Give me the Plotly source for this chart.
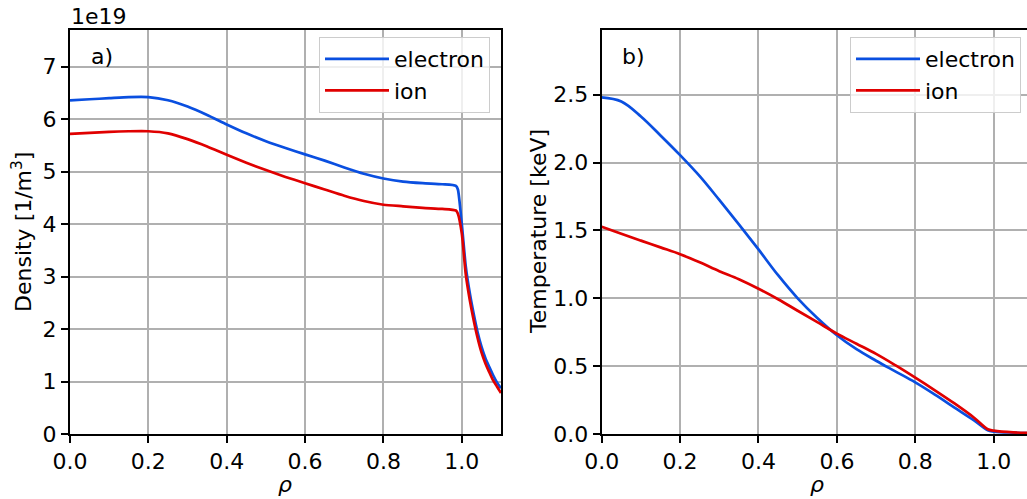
import plotly.graph_objects as go

# Radial profiles: density (units of 1e19 m^-3) and temperature (keV) versus rho
rho_n = [0.0, 0.05, 0.1, 0.15, 0.2, 0.25, 0.3, 0.35, 0.4, 0.45, 0.5, 0.55, 0.6,
         0.65, 0.7, 0.75, 0.8, 0.85, 0.9, 0.95, 0.985, 0.99, 1.0, 1.01, 1.02,
         1.03, 1.04, 1.05, 1.06, 1.07, 1.08, 1.09, 1.1]
ne = [6.36, 6.38, 6.40, 6.42, 6.42, 6.36, 6.24, 6.08, 5.90, 5.73, 5.58, 5.45,
      5.33, 5.21, 5.08, 4.96, 4.87, 4.81, 4.78, 4.76, 4.73, 4.66, 4.00, 3.20,
      2.70, 2.30, 1.95, 1.67, 1.45, 1.28, 1.12, 0.98, 0.87]
ni = [5.72, 5.74, 5.76, 5.77, 5.77, 5.73, 5.62, 5.48, 5.32, 5.17, 5.03, 4.90,
      4.78, 4.66, 4.54, 4.44, 4.37, 4.34, 4.31, 4.29, 4.26, 4.20, 3.82, 3.05,
      2.57, 2.18, 1.84, 1.56, 1.35, 1.18, 1.02, 0.90, 0.78]

rho_t = [0.0, 0.05, 0.1, 0.15, 0.2, 0.25, 0.3, 0.35, 0.4, 0.45, 0.5, 0.55, 0.6,
         0.65, 0.7, 0.75, 0.8, 0.85, 0.9, 0.95, 0.985, 1.0, 1.05, 1.1]
te = [2.48, 2.45, 2.34, 2.20, 2.055, 1.90, 1.725, 1.545, 1.36, 1.17, 1.00, 0.855,
      0.728, 0.625, 0.54, 0.46, 0.38, 0.29, 0.195, 0.10, 0.027, 0.018, 0.010, 0.006]
ti = [1.527, 1.475, 1.425, 1.375, 1.325, 1.265, 1.20, 1.14, 1.07, 0.993, 0.908,
      0.824, 0.74, 0.665, 0.59, 0.505, 0.415, 0.322, 0.225, 0.12, 0.035, 0.025,
      0.012, 0.008]

BLUE = "#0a4fe0"
RED = "#e00000"
FONT = "DejaVu Sans"
FS = 22

W, H = 1027, 499
ML, MR, MT, MB = 70, 0, 30, 65
PW = W - ML - MR
PH = H - MT - MB


def curve(x, y, name, color, xa, ya, leg, smooth):
    return go.Scatter(x=x, y=y, mode="lines", name=name,
                      line=dict(color=color, width=2.7, shape="spline",
                                smoothing=smooth),
                      xaxis=xa, yaxis=ya, legend=leg)


fig = go.Figure()
fig.add_trace(curve(rho_n, ne, "electron", BLUE, "x", "y", "legend", 0.6))
fig.add_trace(curve(rho_n, ni, "ion", RED, "x", "y", "legend", 0.6))
fig.add_trace(curve(rho_t, te, "electron", BLUE, "x2", "y2", "legend2", 1.0))
fig.add_trace(curve(rho_t, ti, "ion", RED, "x2", "y2", "legend2", 1.0))

axis_common = dict(
    showgrid=True, gridcolor="#b0b0b0", gridwidth=1.5,
    showline=True, linecolor="black", linewidth=2,
    ticks="outside", ticklen=7, tickwidth=1.5, tickcolor="black",
    tickfont=dict(family=FONT, size=FS, color="black"),
    zeroline=False,
)

x1_dom = [0.0, (501 - ML) / PW]
x2_dom = [(601.7 - ML) / PW, 1.0]

legend_common = dict(
    y=(H - MB - 37) / PH, xanchor="right", yanchor="top",
    bgcolor="rgba(255,255,255,0.8)", bordercolor="#cccccc", borderwidth=1,
    font=dict(family=FONT, size=FS, color="black"),
    tracegroupgap=0, itemwidth=64,
)

fig.update_layout(
    width=W, height=H,
    margin=dict(l=ML, r=MR, t=MT, b=MB),
    paper_bgcolor="white", plot_bgcolor="white",
    font=dict(family=FONT, size=FS, color="black"),
    xaxis=dict(axis_common, domain=x1_dom, range=[0, 1.1], dtick=0.2,
               tickformat=".1f", mirror=True, anchor="y"),
    yaxis=dict(axis_common, domain=[0, 1], range=[0, 7.7], dtick=1,
               mirror=True, anchor="x"),
    xaxis2=dict(axis_common, domain=x2_dom, range=[0, 1.085], dtick=0.2,
                tickformat=".1f", mirror=True, anchor="y2"),
    yaxis2=dict(axis_common, domain=[0, 1], range=[0, 2.977], dtick=0.5,
                tickformat=".1f", mirror=False, anchor="x2"),
    legend=dict(legend_common, x=(490 - ML) / PW),
    legend2=dict(legend_common, x=(1021 - ML) / PW),
    showlegend=True,
)


def px_x(px):
    return (px - ML) / PW


def px_y(py):
    return (H - MB - py) / PH


annotations = [
    dict(text="1e19", x=px_x(69), y=px_y(17), xanchor="left", yanchor="middle"),
    dict(text="a)", x=px_x(89), y=px_y(57), xanchor="left", yanchor="middle"),
    dict(text="b)", x=px_x(620), y=px_y(57), xanchor="left", yanchor="middle"),
    dict(text="<i>ρ</i>", x=px_x(285), y=px_y(485), xanchor="center", yanchor="middle"),
    dict(text="<i>ρ</i>", x=px_x(817), y=px_y(485), xanchor="center", yanchor="middle"),
    dict(text="Density [1/m<sup>3</sup>]", x=px_x(22), y=px_y(232), textangle=-90,
         xanchor="center", yanchor="middle"),
    dict(text="Temperature [keV]", x=px_x(538), y=px_y(232), textangle=-90,
         xanchor="center", yanchor="middle"),
]
for a in annotations:
    fig.add_annotation(xref="paper", yref="paper", showarrow=False,
                       font=dict(family=FONT, size=FS, color="black"), **a)

fig.write_html("out.html")
